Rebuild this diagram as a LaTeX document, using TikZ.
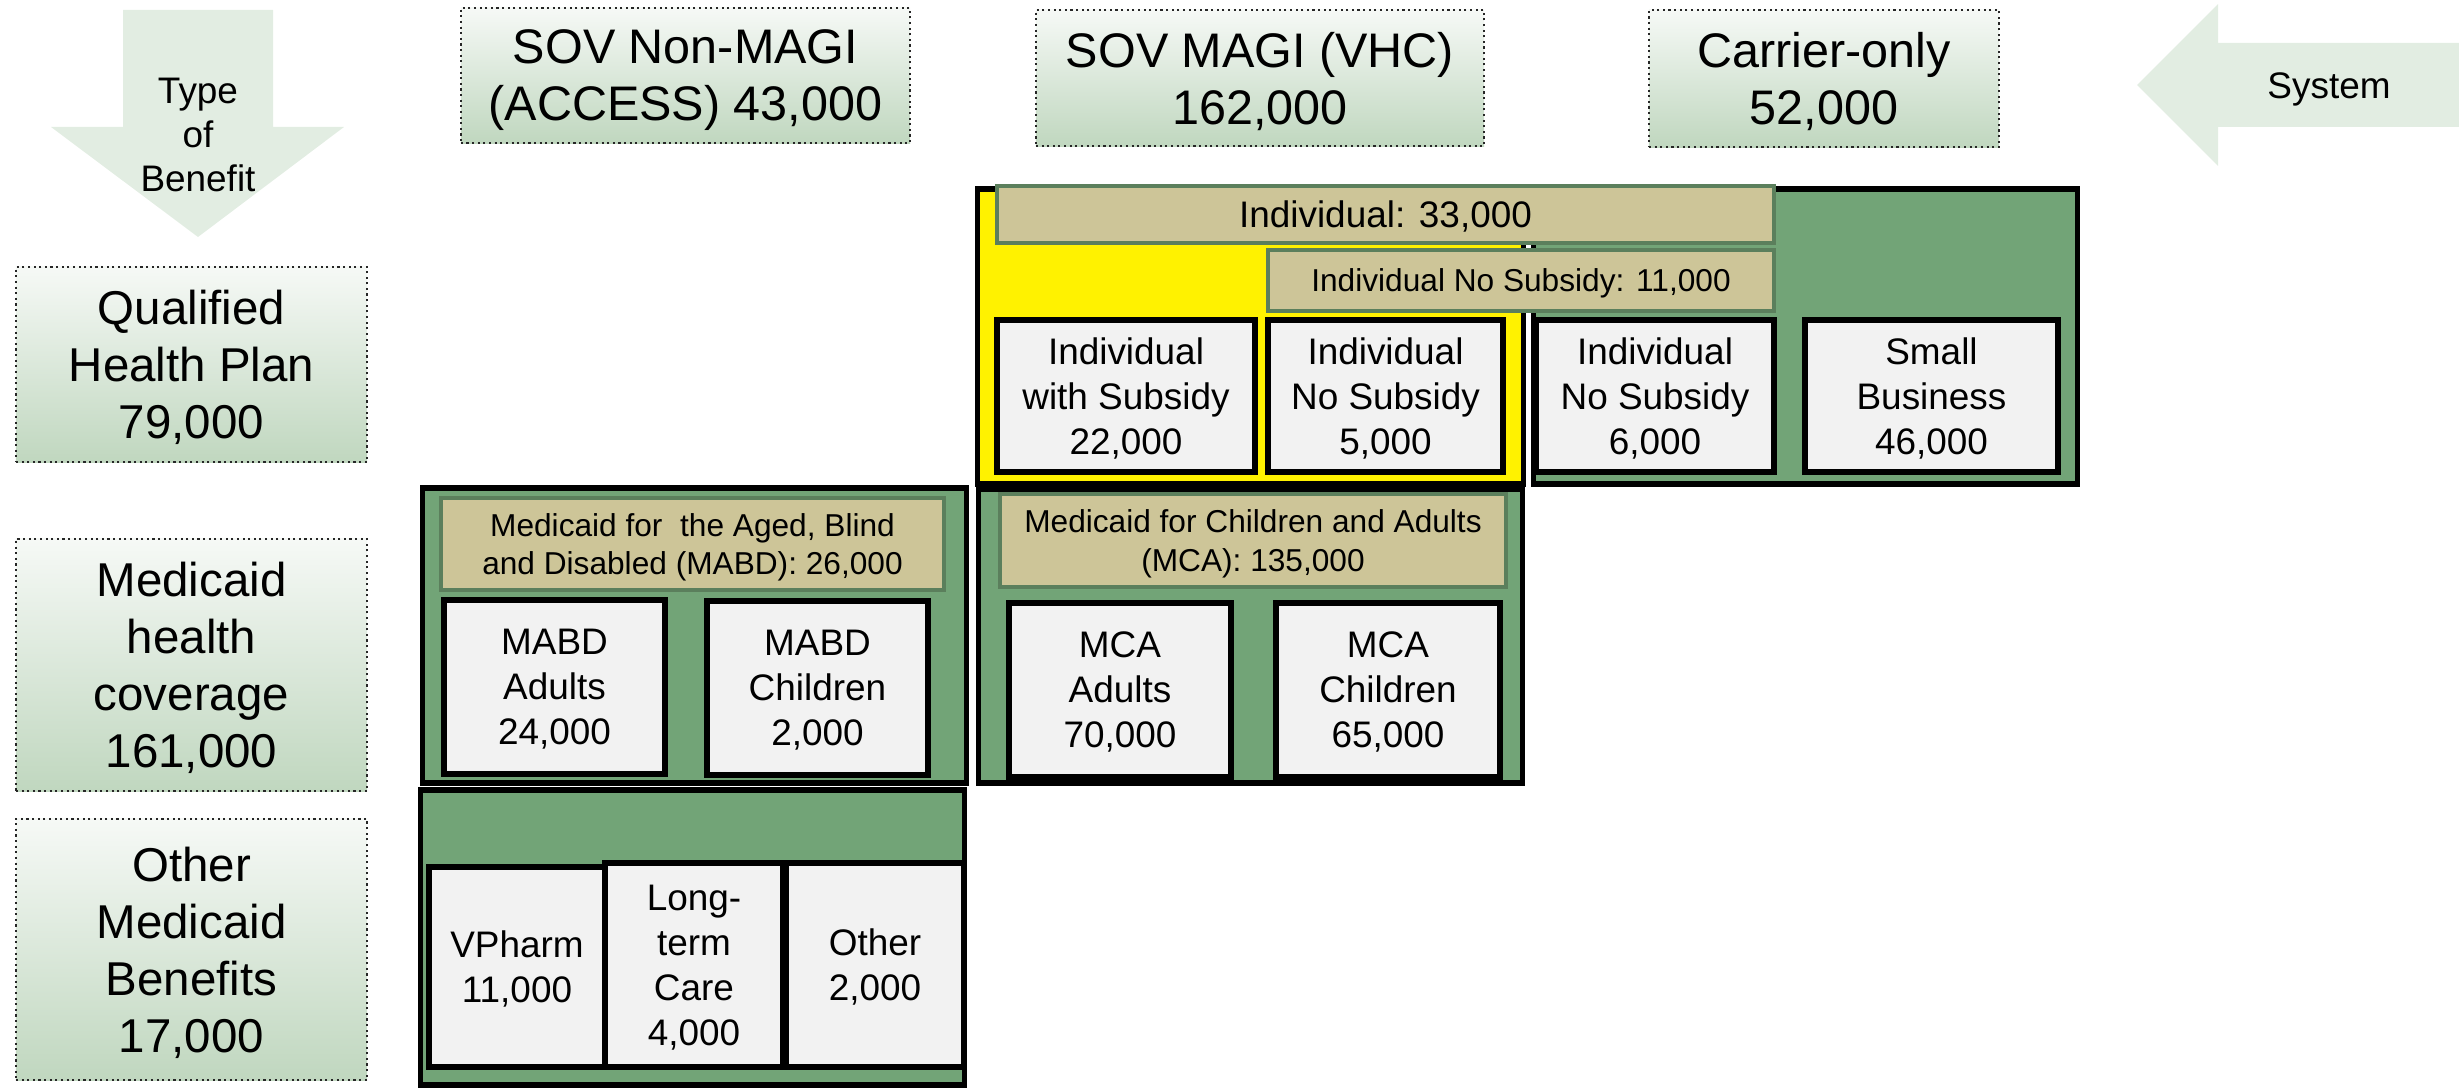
\documentclass[tikz,border=0pt]{standalone}
\usepackage{fontspec}
\setmainfont{Liberation Sans}

\definecolor{grpgreen}{HTML}{72A477}
\definecolor{tanfill}{HTML}{CDC598}
\definecolor{tanedge}{HTML}{5B7F5C}
\definecolor{cellgray}{HTML}{F2F2F2}
\definecolor{arrowfill}{HTML}{E2EDE2}
\definecolor{hdrtop}{HTML}{F6F9F6}
\definecolor{hdrbot}{HTML}{C0D7BF}

\tikzset{
  hdrbox/.style={draw=black!85, densely dotted, line width=0.6pt, top color=hdrtop, bottom color=hdrbot, align=center, inner sep=0pt, text depth=0pt, font=\fontsize{13.5}{16.2}\selectfont},
  sysbox/.style={hdrbox, font=\fontsize{13.8}{16.2}\selectfont},
  arrowtext/.style={align=center, inner sep=0pt, font=\fontsize{10.5}{12.6}\selectfont},
  groupbox/.style={draw=black, line width=1.5pt, fill=grpgreen, inner sep=0pt},
  tanbar/.style={draw=tanedge, line width=1.2pt, fill=tanfill, align=center, inner sep=0pt, text depth=0pt, font=\fontsize{9}{10.9}\selectfont},
  cellbox/.style={draw=black, line width=1.5pt, fill=cellgray, align=center, inner sep=0pt, text depth=0pt, font=\fontsize{10.5}{12.8}\selectfont}
}

\begin{document}
\begin{tikzpicture}[x=0.01cm, y=-0.01cm]
\useasboundingbox (0,0) rectangle (2459,1088);

% block arrows
\fill[arrowfill] (123,10) -- (273,10) -- (273,127) -- (344,127) -- (198,237) -- (51,127) -- (123,127) -- cycle;
\node[arrowtext] (benefit) at (198,135) {Type\\of\\Benefit};
\fill[arrowfill] (2459,43) -- (2218,43) -- (2218,4) -- (2137,85) -- (2218,166) -- (2218,127) -- (2459,127) -- cycle;
\node[arrowtext, anchor=base] (system) at (2329,99) {System};

% systems
\node[sysbox, minimum width=4.49cm, minimum height=1.35cm] (nonmagi) at (685.5,75.5) {SOV Non-MAGI\\(ACCESS) 43,000};
\node[sysbox, minimum width=4.48cm, minimum height=1.36cm] (magi) at (1260,78) {SOV MAGI (VHC)\\162,000};
\node[sysbox, minimum width=3.50cm, minimum height=1.37cm] (carrier) at (1824,78.5) {Carrier-only\\52,000};

% types of benefit
\node[hdrbox, minimum width=3.51cm, minimum height=1.95cm] (qhp) at (191.5,364.5) {Qualified\\Health Plan\\79,000};
\node[hdrbox, minimum width=3.51cm, minimum height=2.52cm] (mhc) at (191.5,665) {Medicaid\\health\\coverage\\161,000};
\node[hdrbox, minimum width=3.51cm, minimum height=2.61cm] (omb) at (191.5,949.5) {Other\\Medicaid\\Benefits\\17,000};

% qualified health plan
\node[groupbox, fill=yellow, minimum width=5.45cm, minimum height=2.95cm] (vhcqhp) at (1250.5,336.5) {};
\node[groupbox, minimum width=5.43cm, minimum height=2.95cm] (carrierqhp) at (1805.5,336.5) {};
\node[tanbar, minimum width=7.77cm, minimum height=0.57cm, font=\fontsize{10.5}{12}\selectfont] (indiv) at (1385.5,214.5) {Individual: 33,000};
\node[tanbar, minimum width=5.06cm, minimum height=0.61cm] (indivnosub) at (1521,280.5) {Individual No Subsidy: 11,000};
\node[cellbox, minimum width=2.58cm, minimum height=1.52cm] (withsub) at (1126,396) {Individual\\with Subsidy\\22,000};
\node[cellbox, minimum width=2.35cm, minimum height=1.52cm] (nosubvhc) at (1385.5,396) {Individual\\No Subsidy\\5,000};
\node[cellbox, minimum width=2.38cm, minimum height=1.52cm] (nosubcarrier) at (1655,396) {Individual\\No Subsidy\\6,000};
\node[cellbox, minimum width=2.53cm, minimum height=1.52cm] (smallbiz) at (1931.5,396) {Small\\Business\\46,000};

% medicaid health coverage
\node[groupbox, minimum width=5.43cm, minimum height=2.95cm] (mabd) at (694.5,635.5) {};
\node[tanbar, minimum width=5.03cm, minimum height=0.92cm] (mabdhead) at (692.5,544) {Medicaid for\ \ the Aged, Blind\\and Disabled (MABD): 26,000};
\node[cellbox, minimum width=2.21cm, minimum height=1.74cm] (mabdadults) at (554.5,687) {MABD\\Adults\\24,000};
\node[cellbox, minimum width=2.21cm, minimum height=1.74cm] (mabdchildren) at (817.5,688) {MABD\\Children\\2,000};
\node[groupbox, minimum width=5.43cm, minimum height=2.94cm] (mca) at (1250.5,636) {};
\node[tanbar, minimum width=5.06cm, minimum height=0.93cm] (mcahead) at (1253,540.5) {Medicaid for Children and Adults\\(MCA): 135,000};
\node[cellbox, minimum width=2.22cm, minimum height=1.74cm] (mcaadults) at (1120,690) {MCA\\Adults\\70,000};
\node[cellbox, minimum width=2.24cm, minimum height=1.74cm] (mcachildren) at (1388,690) {MCA\\Children\\65,000};

% other medicaid benefits
\node[groupbox, minimum width=5.43cm, minimum height=2.95cm] (othergrp) at (692.5,937.5) {};
\node[cellbox, minimum width=1.76cm, minimum height=2.00cm] (vpharm) at (517,967) {VPharm\\11,000};
\node[cellbox, minimum width=1.78cm, minimum height=2.04cm] (ltc) at (694,965) {Long-\\term\\Care\\4,000};
\node[cellbox, minimum width=1.78cm, minimum height=2.04cm] (other) at (875,965) {Other\\2,000};
\end{tikzpicture}
\end{document}
